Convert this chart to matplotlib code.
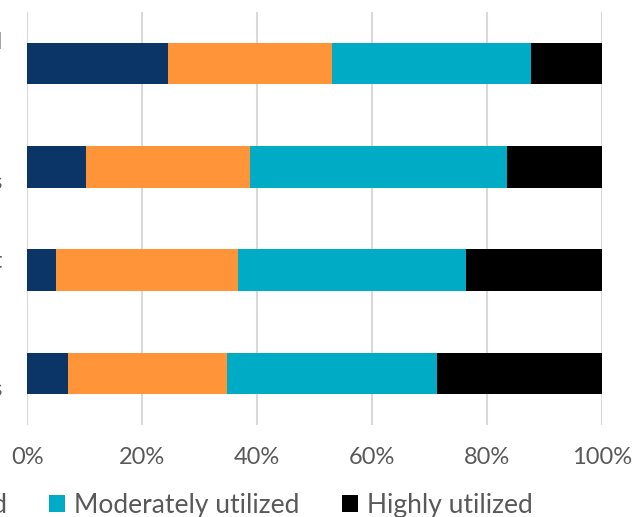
import matplotlib
matplotlib.use("Agg")
from matplotlib import pyplot as plt
from matplotlib.ticker import PercentFormatter
from matplotlib.patches import Patch

plt.rcParams["font.family"] = ["Lato", "DejaVu Sans"]

# Share of respondents per utilization level, one row per equipment group (top to bottom)
categories = [
    "Medical and surgical\nequipment\nand tools",
    "Imaging\ndiagnostic systems",
    "Laboratory equipment\nand supplies",
    "IT\nand computer devices",
]
levels = ["Not utilized", "Minimally utilized", "Moderately utilized", "Highly utilized"]
not_utilized = [24.5, 10.2, 5.0, 7.1]
minimally_utilized = [28.5, 28.6, 31.7, 27.7]
moderately_utilized = [34.7, 44.8, 39.7, 36.5]
highly_utilized = [12.3, 16.4, 23.6, 28.7]
colors = ["#0b3566", "#ff9438", "#00acc5", "#000000"]

fig = plt.figure(figsize=(6.42, 5.17), dpi=100)
ax = fig.add_axes([27.3 / 642, 1 - 425 / 517, 574.4 / 642, 413 / 517])

series = [not_utilized, minimally_utilized, moderately_utilized, highly_utilized]
rows = range(len(categories))
left = [0.0] * len(categories)
for values, color, label in zip(series, colors, levels):
    ax.barh(rows, values, left=left, height=0.4, color=color, label=label, zorder=3)
    left = [l + v for l, v in zip(left, values)]

ax.set_xlim(0, 100)
ax.set_ylim(3.5, -0.5)
ax.set_xticks([0, 20, 40, 60, 80, 100])
ax.xaxis.set_major_formatter(PercentFormatter(decimals=0))
ax.set_yticks(list(rows))
ax.set_yticklabels(categories, multialignment="center")
ax.grid(axis="x", color="#d9d9d9", linewidth=1.5, zorder=0)
ax.axvline(0, color="#d9d9d9", linewidth=1.5, zorder=1)
for side in ["top", "right", "bottom", "left"]:
    ax.spines[side].set_visible(False)
ax.tick_params(axis="both", length=0, labelsize=17, labelcolor="#595959")
ax.tick_params(axis="x", pad=16)
ax.tick_params(axis="y", pad=18)

handles = [Patch(facecolor=c) for c in colors]
fig.legend(handles, levels, loc="center right", bbox_to_anchor=(546 / 642, 12 / 517),
           ncol=4, frameon=False, fontsize=19, labelcolor="#595959", borderpad=0,
           handlelength=0.6, handleheight=0.6, handletextpad=0.35, columnspacing=1.6)

fig.savefig("out.png", dpi=100)
